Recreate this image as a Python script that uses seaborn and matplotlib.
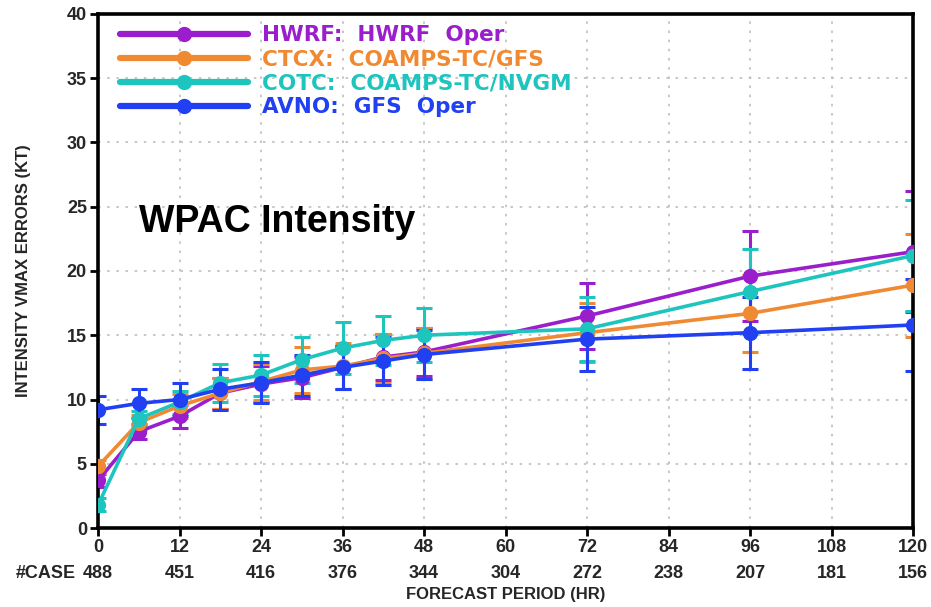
import numpy as np
import pandas as pd
import matplotlib
matplotlib.use("Agg")
import matplotlib.pyplot as plt
import matplotlib.transforms as mtransforms
import seaborn as sns

hours = [0, 6, 12, 18, 24, 30, 36, 42, 48, 72, 96, 120]
models = ["HWRF:  HWRF  Oper", "CTCX:  COAMPS-TC/GFS", "COTC:  COAMPS-TC/NVGM", "AVNO:  GFS  Oper"]
hwrf = [3.7, 7.5, 8.7, 10.5, 11.2, 11.7, 12.5, 13.3, 13.7, 16.5, 19.6, 21.5]
ctcx = [4.8, 8.2, 9.5, 10.5, 11.4, 12.3, 12.6, 13.2, 13.6, 15.2, 16.7, 18.9]
cotc = [1.8, 8.5, 9.8, 11.3, 11.9, 13.1, 14.0, 14.6, 15.0, 15.5, 18.4, 21.2]
avno = [9.2, 9.7, 10.0, 10.8, 11.3, 11.9, 12.5, 13.0, 13.5, 14.7, 15.2, 15.8]
hwrf_err = [0.5, 0.6, 0.9, 1.2, 1.4, 1.6, 1.7, 1.8, 1.9, 2.6, 3.5, 4.7]
ctcx_err = [0.5, 0.6, 0.9, 1.2, 1.4, 1.8, 1.8, 1.9, 2.0, 2.3, 3.0, 4.0]
cotc_err = [0.5, 0.6, 0.9, 1.5, 1.6, 1.8, 2.0, 1.9, 2.1, 2.5, 3.3, 4.3]
avno_err = [1.1, 1.1, 1.3, 1.6, 1.6, 1.6, 1.7, 1.9, 1.9, 2.5, 2.8, 3.6]
case_ticks = [0, 12, 24, 36, 48, 60, 72, 84, 96, 108, 120]
case_counts = [488, 451, 416, 376, 344, 304, 272, 238, 207, 181, 156]
colors = ["#9A1ECB", "#F08A32", "#1EC4BE", "#2140F2"]

values = [hwrf, ctcx, cotc, avno]
errs = [hwrf_err, ctcx_err, cotc_err, avno_err]
df = pd.DataFrame({
    "hour": hours * 4,
    "err": sum(values, []),
    "model": sum([[m] * len(hours) for m in models], []),
})

sns.set_style("white")
plt.rcParams["font.family"] = ["Liberation Sans", "DejaVu Sans"]
plt.rcParams["font.weight"] = "bold"

fig = plt.figure(figsize=(9.31, 6.07), dpi=100)
ax = fig.add_axes([0.1053, 0.1301, 0.8754, 0.8469])

for v, e, c in zip(values, errs, colors):
    ax.errorbar(hours, v, yerr=e, fmt="none", ecolor=c, elinewidth=2.2,
                capsize=6, capthick=2.2, zorder=2)

sns.lineplot(data=df, x="hour", y="err", hue="model", palette=colors,
             marker="o", markersize=11, markeredgewidth=0, linewidth=2.6,
             ax=ax, zorder=3, legend=True)

ax.set_xlim(0, 120)
ax.set_ylim(0, 40)
ax.set_xticks(case_ticks)
ax.set_xticklabels([str(t) for t in case_ticks], fontsize=13, fontweight="bold")
ax.set_yticks(range(0, 41, 5))
ax.set_yticklabels([str(t) for t in range(0, 41, 5)], fontsize=13, fontweight="bold")
ax.tick_params(axis="both", direction="out", length=6, width=2, color="black", pad=2)
ax.tick_params(axis="x", bottom=True)
ax.tick_params(axis="y", left=True)
ax.grid(True, color="#bdbdbd", linestyle=(0, (1.5, 4)), linewidth=1.2)
for s in ax.spines.values():
    s.set_visible(True)
    s.set_color("black")
    s.set_linewidth(2.6)

ax.set_xlabel("FORECAST PERIOD (HR)", fontsize=12, fontweight="bold", labelpad=22)
ax.set_ylabel("INTENSITY VMAX ERRORS (KT)", fontsize=12, fontweight="bold", labelpad=26)

trans = mtransforms.blended_transform_factory(ax.transData, ax.transAxes)
for t, n in zip(case_ticks, case_counts):
    ax.text(t, -0.088, str(n), transform=trans, ha="center", va="center",
            fontsize=13, fontweight="bold")
ax.text(-3.2, -0.088, "#CASE", transform=trans, ha="right", va="center",
        fontsize=13, fontweight="bold")

ax.text(0.05, 0.596, "WPAC Intensity", transform=ax.transAxes, fontsize=27,
        fontweight="bold", ha="left", va="center", color="black")

handles, labels = ax.get_legend_handles_labels()
leg = ax.legend(handles, labels, loc="upper left", bbox_to_anchor=(0.003, 1.016),
                frameon=False, handlelength=5.95, handletextpad=0.65,
                labelspacing=0.19,
                prop={"family": "DejaVu Sans", "size": 15.5, "weight": "bold"})
for txt, c in zip(leg.get_texts(), colors):
    txt.set_color(c)
for h in leg.get_lines():
    h.set_linewidth(4.5)
    h.set_markersize(11)

fig.savefig("out.png", dpi=100)
